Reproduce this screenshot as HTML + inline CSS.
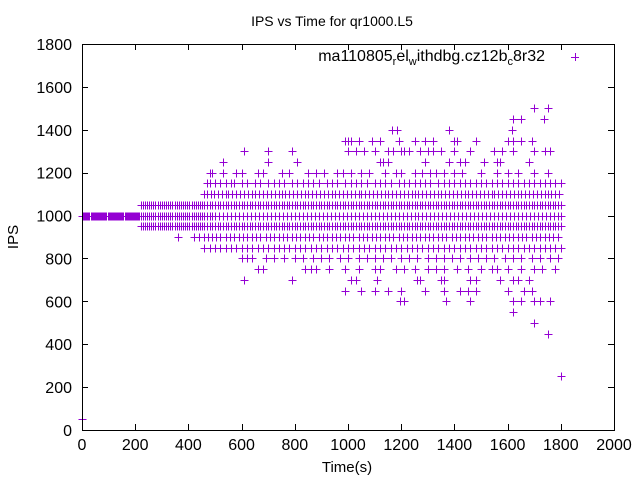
<!DOCTYPE html>
<html><head><meta charset="utf-8"><style>
body{margin:0;background:#fff}
svg{display:block;font-family:"Liberation Sans",sans-serif}
</style></head><body>
<svg id="chart" width="640" height="480" viewBox="0 0 640 480">
<text x="332" y="26" font-size="14" text-anchor="middle">IPS vs Time for qr1000.L5</text>
<text x="347" y="472" font-size="15" text-anchor="middle">Time(s)</text>
<text transform="translate(18,237) rotate(-90)" font-size="15" text-anchor="middle">IPS</text>
<g id="axes"></g>
<g id="marks"></g>
<g>
<text x="545" y="61" font-size="16" text-anchor="end">ma110805<tspan font-size="11" dy="4">r</tspan><tspan dy="-4">el</tspan><tspan font-size="11" dy="4">w</tspan><tspan dy="-4">ithdbg.cz12b</tspan><tspan font-size="11" dy="4">c</tspan><tspan dy="-4">8r32</tspan></text>
<path d="M571 57.5h8M575.5 53v8" stroke="#9400d3" stroke-width="1" shape-rendering="crispEdges"/>
</g>
<rect x="82.5" y="44.5" width="532" height="386" fill="none" stroke="#000"/>
</svg>
<script>
const xTicks=[0,200,400,600,800,1000,1200,1400,1600,1800,2000];
const yTicks=[0,200,400,600,800,1000,1200,1400,1600,1800];
const levels=[1500,1450,1400,1350,1300,1250,1200,1150,1100,1050,1000,950,900,850,800,750,700,650,600,550,500,450,250,50];
const times=[
[1700,1750],
[1620,1650,1735],
[1165,1185,1380,1615],
[990,1000,1010,1040,1090,1120,1190,1250,1290,1320,1400,1410,1480,1600,1620,1650,1690],
[610,700,790,1000,1030,1060,1100,1150,1170,1200,1210,1230,1270,1300,1320,1350,1400,1460,1550,1580,1620,1700,1740,1760],
[530,700,810,1120,1130,1150,1290,1380,1420,1440,1510,1560,1570,1680],
[480,490,530,580,600,660,680,750,780,850,880,910,960,980,1010,1050,1080,1140,1180,1200,1250,1280,1310,1330,1360,1400,1430,1500,1560,1600,1640,1700,1750],
[470,480,500,520,540,560,570,600,620,650,670,700,720,740,760,790,810,830,850,870,890,920,940,960,990,1010,1030,1050,1070,1100,1120,1140,1160,1190,1210,1230,1250,1270,1290,1310,1340,1360,1380,1400,1420,1440,1460,1480,1500,1520,1540,1560,1580,1600,1620,1640,1660,1680,1700,1720,1740,1760,1780,1800],
[460,470,485,495,510,525,540,550,565,580,595,610,625,640,650,665,680,695,710,725,740,750,765,780,795,810,825,840,850,865,880,895,910,925,940,950,965,980,995,1010,1025,1040,1050,1065,1080,1095,1110,1125,1140,1150,1165,1180,1195,1210,1225,1240,1250,1265,1280,1295,1310,1325,1340,1350,1365,1380,1395,1410,1425,1440,1450,1465,1480,1495,1510,1525,1540,1550,1565,1580,1595,1610,1625,1640,1650,1665,1680,1695,1710,1725,1740,1750,1765,1780,1795],
[220,228,236,244,252,260,268,276,284,292,300,308,316,324,332,340,348,356,364,372,380,388,396,404,412,420,428,436,444,452,460,470,480,490,500,510,520,530,540,550,560,570,580,590,600,610,620,630,640,650,660,670,680,690,700,710,720,730,740,750,760,770,780,790,800,810,820,830,840,850,860,870,880,890,900,910,920,930,940,950,960,970,980,990,1000,1010,1020,1030,1040,1050,1060,1070,1080,1090,1100,1110,1120,1130,1140,1150,1160,1170,1180,1190,1200,1210,1220,1230,1240,1250,1260,1270,1280,1290,1300,1310,1320,1330,1340,1350,1360,1370,1380,1390,1400,1410,1420,1430,1440,1450,1460,1470,1480,1490,1500,1510,1520,1530,1540,1550,1560,1570,1580,1590,1600,1610,1620,1630,1640,1650,1660,1670,1680,1690,1700,1710,1720,1730,1740,1750,1760,1770,1780,1790,1800],
[0,4,8,12,16,20,24,28,32,36,40,44,48,52,56,60,64,68,72,76,80,84,88,92,96,100,104,108,112,116,120,124,128,132,136,140,144,148,152,156,160,164,168,172,176,180,184,188,192,196,200,204,208,212,216,220,228,236,244,252,260,268,276,284,292,300,308,316,324,332,340,348,356,364,372,380,388,396,404,412,420,428,436,444,452,460,470,480,490,500,515,530,545,560,575,590,605,620,635,650,665,680,695,710,725,740,755,770,785,800,815,830,845,860,875,890,905,920,935,950,965,980,995,1010,1025,1040,1055,1070,1085,1100,1115,1130,1145,1160,1175,1190,1205,1220,1235,1250,1265,1280,1295,1310,1325,1340,1355,1370,1385,1400,1415,1430,1445,1460,1475,1490,1505,1520,1535,1550,1565,1580,1595,1610,1625,1640,1655,1670,1685,1700,1715,1730,1745,1760,1775,1790,1800],
[220,228,236,244,252,260,268,276,284,292,300,308,316,324,332,340,348,356,364,372,380,388,396,404,412,420,428,436,444,452,460,470,480,490,500,510,520,530,540,550,560,570,580,590,600,610,620,630,640,650,660,670,680,690,700,710,720,730,740,750,760,770,780,790,800,810,820,830,840,850,860,870,880,890,900,910,920,930,940,950,960,970,980,990,1000,1010,1020,1030,1040,1050,1060,1070,1080,1090,1100,1110,1120,1130,1140,1150,1160,1170,1180,1190,1200,1210,1220,1230,1240,1250,1260,1270,1280,1290,1300,1310,1320,1330,1340,1350,1360,1370,1380,1390,1400,1410,1420,1430,1440,1450,1460,1470,1480,1490,1500,1510,1520,1530,1540,1550,1560,1570,1580,1590,1600,1610,1620,1630,1640,1650,1660,1670,1680,1690,1700,1710,1720,1730,1740,1750,1760,1770,1780,1790,1800],
[360,420,440,460,475,490,505,520,540,555,570,590,605,620,640,655,670,690,705,720,740,755,770,790,805,820,840,855,870,890,905,920,940,955,970,990,1005,1020,1040,1055,1070,1090,1105,1120,1140,1155,1170,1190,1205,1220,1240,1255,1270,1290,1305,1320,1340,1355,1370,1390,1405,1420,1440,1455,1470,1490,1505,1520,1540,1555,1570,1590,1605,1620,1640,1655,1670,1690,1705,1720,1740,1755,1770,1790],
[460,480,500,520,540,560,580,600,620,640,660,680,700,720,740,760,780,800,820,840,860,880,900,920,940,960,980,1000,1020,1040,1060,1080,1100,1120,1140,1160,1180,1200,1220,1240,1260,1280,1300,1320,1340,1360,1380,1400,1420,1440,1460,1480,1500,1520,1540,1560,1580,1600,1620,1640,1660,1680,1700,1720,1740,1760,1780,1800],
[600,620,640,690,720,760,800,830,870,900,930,970,1000,1040,1070,1100,1130,1160,1200,1230,1260,1300,1330,1360,1390,1420,1460,1490,1520,1550,1590,1620,1650,1690,1720,1760,1790],
[660,680,840,860,880,930,990,1040,1100,1120,1180,1210,1250,1300,1330,1360,1410,1450,1500,1540,1560,1600,1650,1700,1730,1780],
[610,790,1010,1030,1110,1260,1270,1350,1360,1460,1480,1570,1620,1640,1680],
[990,1050,1100,1150,1200,1290,1360,1420,1450,1480,1600,1660,1690],
[1195,1210,1370,1460,1620,1650,1700,1720,1760],
[1620],[1700],[1750],[1800],[0]
];
const NS="http://www.w3.org/2000/svg";
const x0=82,pw=532,y0=430,ph=386;
function sx(t){return x0+t/2000*pw;}
function sy(v){return y0-v/1800*ph;}
const axes=document.getElementById('axes');
xTicks.forEach(t=>{
 const p=document.createElementNS(NS,'path');
 p.setAttribute('d',`M${Math.round(sx(t))+0.5} 430v-6M${Math.round(sx(t))+0.5} 44v6`);
 p.setAttribute('stroke','#000');
 
 
 axes.appendChild(p);
 const l=document.createElementNS(NS,'text');
 l.setAttribute('x',sx(t));l.setAttribute('y',450);l.setAttribute('font-size','16');l.setAttribute('text-anchor','middle');
 l.textContent=t;
 
 
 axes.appendChild(l);
});
yTicks.forEach(v=>{
 const p=document.createElementNS(NS,'path');
 p.setAttribute('d',`M82 ${Math.round(sy(v))+0.5}h6M614 ${Math.round(sy(v))+0.5}h-6`);
 p.setAttribute('stroke','#000');
 
 
 axes.appendChild(p);
 const l=document.createElementNS(NS,'text');
 l.setAttribute('x',72);l.setAttribute('y',sy(v)+6);l.setAttribute('font-size','16');l.setAttribute('text-anchor','end');
 l.textContent=v;
 
 
 axes.appendChild(l);
});
const marks=document.getElementById('marks');
let d='';
levels.forEach((v,i)=>{
 times[i].forEach(t=>{
  const x=Math.round(sx(t))+0.5,y=Math.round(sy(v))+0.5;
  d+=`M${x-4} ${y}h8M${x} ${y-4}v8`;
 });
});
const pts=document.createElementNS(NS,'path');
pts.setAttribute('d',d);
pts.setAttribute('stroke','#9400d3');
pts.setAttribute('fill','none');
pts.setAttribute('shape-rendering','crispEdges');


marks.appendChild(pts);
</script>
</body></html>
